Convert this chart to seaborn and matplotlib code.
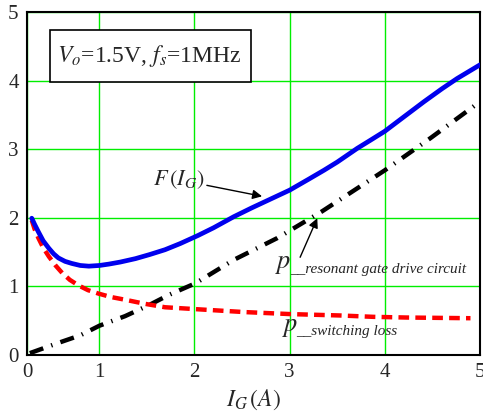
import matplotlib
matplotlib.use("Agg")
import matplotlib.pyplot as plt
from matplotlib.patches import Rectangle
import seaborn as sns

# Total loss F(I_G) versus gate current
ig_total = [0.29, 0.32, 0.36, 0.41, 0.47, 0.52, 0.57, 0.64, 0.71, 0.80,
            0.89, 1.00, 1.10, 1.22, 1.38, 1.53, 1.69, 1.85, 2.04, 2.20,
            2.41, 2.60, 2.80, 3.00, 3.20, 3.36, 3.50, 3.71, 3.85, 4.00,
            4.20, 4.41, 4.60, 4.76, 5.00]
f_total = [1.99, 1.90, 1.79, 1.66, 1.55, 1.47, 1.41, 1.36, 1.33, 1.30,
           1.29, 1.30, 1.32, 1.35, 1.40, 1.46, 1.53, 1.62, 1.74, 1.85,
           2.01, 2.14, 2.27, 2.40, 2.56, 2.69, 2.81, 3.01, 3.13, 3.26,
           3.47, 3.69, 3.88, 4.03, 4.23]

# Switching loss
ig_sw = [0.29, 0.32, 0.36, 0.41, 0.47, 0.54, 0.61, 0.69, 0.78, 0.88,
         0.99, 1.12, 1.27, 1.48, 1.69, 2.04, 2.52, 3.01, 3.53, 3.88,
         4.23, 4.90]
p_sw = [1.96, 1.83, 1.70, 1.56, 1.43, 1.30, 1.19, 1.09, 1.01, 0.94,
        0.89, 0.84, 0.80, 0.74, 0.69, 0.66, 0.62, 0.59, 0.57, 0.55,
        0.54, 0.53]

# Resonant gate drive circuit loss
ig_rg = [0.27, 0.57, 0.80, 1.00, 1.27, 1.52, 1.73, 2.01, 2.41, 2.87,
         3.34, 4.00, 4.48, 4.93, 5.00]
p_rg = [0.02, 0.17, 0.28, 0.42, 0.56, 0.72, 0.87, 1.04, 1.38, 1.70,
        2.09, 2.69, 3.16, 3.62, 3.70]

x_ticks = [0.24, 1, 2, 3, 4, 5]
x_tick_labels = ["0", "1", "2", "3", "4", "5"]
y_ticks = [0, 1, 2, 3, 4, 5]

sns.set_style("white")
plt.rcParams["font.family"] = ["Liberation Serif", "DejaVu Serif"]
plt.rcParams["mathtext.fontset"] = "stix"

fig = plt.figure(figsize=(4.83, 4.16), dpi=100)
ax = fig.add_axes([0.0559, 0.1478, 0.9379, 0.8232])

sns.lineplot(x=ig_rg, y=p_rg, ax=ax, color="black", lw=3.2,
             linestyle=(0, (3.2, 1.9, 0.3, 1.9)), sort=False, zorder=3)
sns.lineplot(x=ig_sw, y=p_sw, ax=ax, color="#ff0000", lw=3.2,
             linestyle=(0, (2.4, 1.4)), sort=False, zorder=3)
sns.lineplot(x=ig_total, y=f_total, ax=ax, color="#0000ee", lw=3.4,
             sort=False, zorder=4)

ax.set_xlim(x_ticks[0], 5)
ax.set_ylim(0, 5)
ax.set_xticks(x_ticks)
ax.set_xticklabels(x_tick_labels)
ax.set_yticks(y_ticks)
ax.tick_params(length=0, labelsize=15, pad=6)
ax.grid(True, color="#00ee00", lw=1.0)
for s in ax.spines.values():
    s.set_color("black")
    s.set_linewidth(1.5)

ax.set_xlabel(r"$I_G\,(A)$", fontsize=17, labelpad=4)

# Operating-point box
ax.add_patch(Rectangle((0.0508, 0.7956), 0.4437, 0.1518, transform=ax.transAxes,
                       facecolor="white", edgecolor="black", lw=1.2, zorder=5))
ax.text(0.2700, 0.8715, r"$V_o$=1.5V, $f_s$=1MHz", transform=ax.transAxes,
        ha="center", va="center", fontsize=17, zorder=6)

# Curve labels
ax.annotate("", xy=(2.71, 2.31), xytext=(2.13, 2.47),
            arrowprops=dict(arrowstyle="-|>", color="black", lw=1.0,
                            mutation_scale=14, shrinkA=0, shrinkB=0), zorder=6)
ax.text(1.56, 2.47, r"$F\,(I_G)$", fontsize=16, va="baseline", ha="left")

ax.annotate("", xy=(3.29, 1.99), xytext=(3.11, 1.42),
            arrowprops=dict(arrowstyle="-|>", color="black", lw=1.0,
                            mutation_scale=14, shrinkA=0, shrinkB=0), zorder=6)
ax.text(2.85, 1.26, r"$p$", fontsize=19, va="baseline", ha="left")
ax.text(3.00, 1.19, "__resonant gate drive circuit", fontsize=11,
        style="italic", va="baseline", ha="left")

ax.text(2.92, 0.34, r"$p$", fontsize=19, va="baseline", ha="left")
ax.text(3.07, 0.28, "__switching loss", fontsize=11,
        style="italic", va="baseline", ha="left")

fig.savefig("out.png", dpi=100)
